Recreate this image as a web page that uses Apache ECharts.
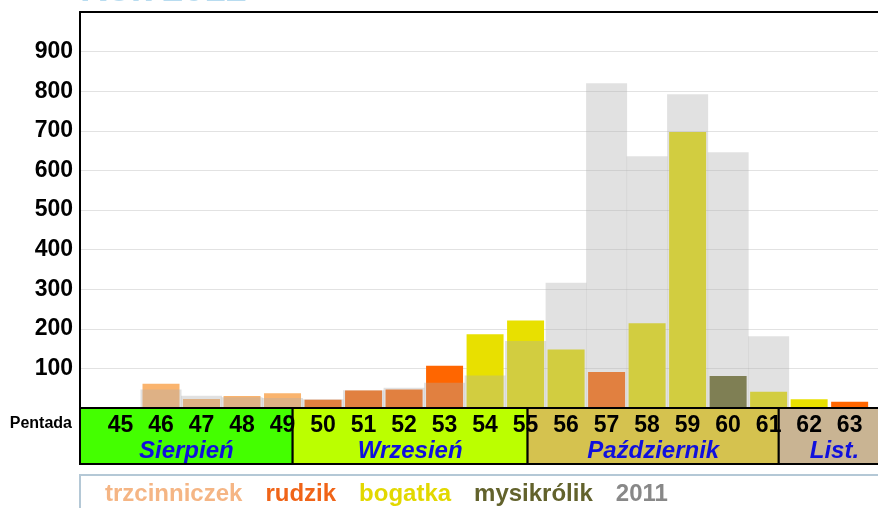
<!DOCTYPE html>
<html>
<head>
<meta charset="utf-8">
<script src="https://cdn.jsdelivr.net/npm/echarts@6/dist/echarts.min.js"></script>
<style>html,body{margin:0;padding:0;background:#fff}#c{width:878px;height:508px}</style>
</head>
<body>
<div id="c"></div>
<script>
// ---- data ----
const pentads      = [45, 46, 47, 48, 49, 50, 51, 52, 53, 54, 55, 56, 57, 58, 59, 60, 61, 62, 63];
const trzcinniczek = [ 0, 61, 23, 30, 37,  0,  0,  0,  0,  0,  0,  0,  0,  0,  0,  0,  0,  0,  0];
const rudzik       = [ 0,  0,  0,  0,  0, 21, 44, 47,107,  0,  0,  0, 91,  0,  0,  0,  0,  0, 16];
const bogatka      = [ 0,  0,  0,  0,  0,  0,  0,  0,  0,186,221,148,  0,214,697,  0, 41, 22,  0];
const mysikrolik   = [ 0,  0,  0,  0,  0,  0,  0,  0,  0,  0,  0,  0,  0,  0,  0, 81,  0,  0,  0];
const y2011        = [ 0, 47, 31, 27, 25, 22, 45, 51, 64, 82,169,316,820,636,792,646,181,  0,  0];
const yTicks       = [100, 200, 300, 400, 500, 600, 700, 800, 900];
const months       = ['Sierpień', 'Wrzesień', 'Październik', 'List.'];
const monthBounds  = [44, 49.25, 55.05, 61.25, 64];
const titleText    = 'Rok 2012';

const NARROW = '"Liberation Sans Narrow", "Liberation Sans", Arial, sans-serif';
const SANS = '"Liberation Sans", Arial, sans-serif';

function pairs(arr) {
  const out = [];
  arr.forEach((v, i) => { if (v > 0) out.push([pentads[i], v]); });
  return out;
}

const chart = echarts.init(document.getElementById('c'), null, {renderer: 'canvas'});
const XMIN = 44, XMAX = 63.7;

chart.setOption({
  animation: false,
  backgroundColor: '#fff',
  grid: {left: 80, top: 12, right: 0, bottom: 100},
  legend: {
    left: 100, top: 482, icon: 'none', itemWidth: 0, itemGap: 18, selectedMode: false,
    padding: 0,
    textStyle: {fontSize: 24, fontWeight: 'bold', fontFamily: NARROW},
    data: [
      {name: 'trzcinniczek', textStyle: {color: '#F5B584'}},
      {name: 'rudzik', textStyle: {color: '#F06418'}},
      {name: 'bogatka', textStyle: {color: '#E2D800'}},
      {name: 'mysikrólik', textStyle: {color: '#62622C'}},
      {name: '2011', textStyle: {color: '#888888'}}
    ]
  },
  xAxis: [
    {
      type: 'value', min: XMIN, max: XMAX, interval: 1, position: 'bottom', z: 10,
      axisLine: {show: true, lineStyle: {color: '#000', width: 2}},
      axisTick: {show: false}, splitLine: {show: false},
      axisLabel: {
        formatter: v => (v >= pentads[0] && v <= pentads[pentads.length - 1]) ? String(v) : '',
        fontSize: 23, fontWeight: 'bold', fontFamily: NARROW, color: '#000', margin: 6,
        showMinLabel: false, showMaxLabel: false
      }
    },
    {
      type: 'value', min: XMIN, max: XMAX, position: 'top',
      axisLine: {show: true, onZero: false, lineStyle: {color: '#000', width: 2}},
      axisTick: {show: false}, axisLabel: {show: false}, splitLine: {show: false}
    }
  ],
  yAxis: {
    type: 'value', min: 0, max: 1000, interval: 100,
    axisLine: {show: true, lineStyle: {color: '#000', width: 2}},
    axisTick: {show: false},
    axisLabel: {
      formatter: v => yTicks.includes(v) ? String(v) : '',
      fontSize: 23, fontWeight: 'bold', fontFamily: SANS, color: '#000', margin: 7
    },
    splitLine: {lineStyle: {color: '#E2E2E2', width: 1}}
  },
  series: [
    {name: 'trzcinniczek', type: 'bar', xAxisIndex: 0, barWidth: 37, barGap: '-100%', data: pairs(trzcinniczek), itemStyle: {color: '#FAB46E'}},
    {name: 'rudzik', type: 'bar', xAxisIndex: 0, barWidth: 37, barGap: '-100%', data: pairs(rudzik), itemStyle: {color: '#FF6600'}},
    {name: 'bogatka', type: 'bar', xAxisIndex: 0, barWidth: 37, barGap: '-100%', data: pairs(bogatka), itemStyle: {color: '#E8E000'}},
    {name: 'mysikrólik', type: 'bar', xAxisIndex: 0, barWidth: 37, barGap: '-100%', data: pairs(mysikrolik), itemStyle: {color: '#656521'}},
    {name: '2011', type: 'bar', xAxisIndex: 1, barWidth: 41, data: pairs(y2011), itemStyle: {color: 'rgba(173,173,173,0.37)'}, z: 3}
  ]
});

// ---- month boxes below the axis, positioned through the axis scale ----
const y0 = chart.convertToPixel({yAxisIndex: 0}, 0);
const boxTop = Math.round(y0);
const boxH = 56;
const monthColors = ['#44FF00', '#BBFF00', '#D5C24F', '#C9B493'];
const graphics = [];
months.forEach((m, i) => {
  const xa = chart.convertToPixel({xAxisIndex: 0}, monthBounds[i]);
  const xb = chart.convertToPixel({xAxisIndex: 0}, monthBounds[i + 1]);
  graphics.push({
    type: 'rect', z: 1,
    shape: {x: xa, y: boxTop, width: xb - xa, height: boxH},
    style: {fill: monthColors[i], stroke: '#000', lineWidth: 2}
  });
  graphics.push({
    type: 'text', z: 2,
    x: (xa + xb) / 2, y: boxTop + 43,
    style: {text: m, fill: '#1010DD', font: 'italic bold 24px ' + SANS, textAlign: 'center', textVerticalAlign: 'middle'}
  });
});
graphics.push({
  type: 'text', z: 2, x: 72, y: boxTop + 16,
  style: {text: 'Pentada', fill: '#000', font: 'bold 16px ' + NARROW, textAlign: 'right', textVerticalAlign: 'middle'}
});
// legend frame
graphics.push({
  type: 'rect', z: 0,
  shape: {x: 80, y: boxTop + 67, width: 820, height: 60},
  style: {fill: '#fff', stroke: '#B4C8D6', lineWidth: 2}
});
// title (cut off at the top of the picture)
graphics.push({
  type: 'text', z: 2, x: 80, y: 10,
  style: {text: titleText, fill: '#B8DCF0', font: 'bold 38px ' + SANS, textAlign: 'left', textVerticalAlign: 'bottom'}
});
chart.setOption({graphic: graphics});
</script>
</body>
</html>
